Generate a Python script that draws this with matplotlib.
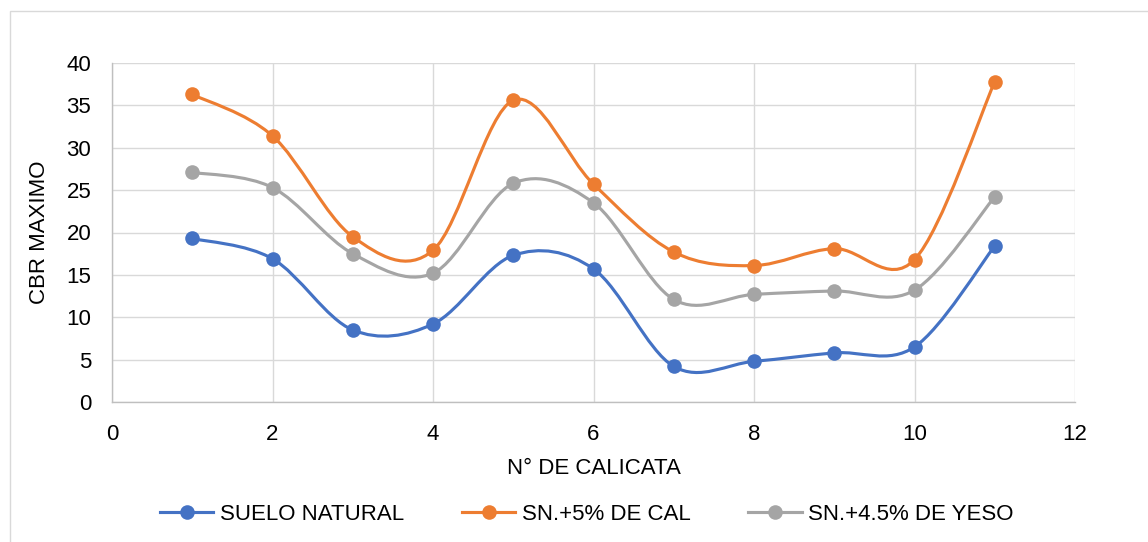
import numpy as np
import matplotlib
matplotlib.use("Agg")
from matplotlib import pyplot
from matplotlib.path import Path
from matplotlib.patches import PathPatch, Rectangle
from matplotlib.lines import Line2D

plt = pyplot

# Data
calicata = [1, 2, 3, 4, 5, 6, 7, 8, 9, 10, 11]
suelo_natural = [19.3, 16.9, 8.5, 9.2, 17.3, 15.7, 4.2, 4.8, 5.8, 6.5, 18.4]
sn_cal = [36.3, 31.4, 19.5, 17.9, 35.6, 25.7, 17.7, 16.1, 18.1, 16.8, 37.8]
sn_yeso = [27.1, 25.3, 17.5, 15.2, 25.8, 23.5, 12.1, 12.7, 13.1, 13.2, 24.2]

series_names = ["SUELO NATURAL", "SN.+5% DE CAL", "SN.+4.5% DE YESO"]
series_colors = ["#4472C4", "#ED7D31", "#A5A5A5"]

x_ticks = [0, 2, 4, 6, 8, 10, 12]
y_ticks = [0, 5, 10, 15, 20, 25, 30, 35, 40]

FONT = "Liberation Sans"
FS = 16
LW = 2.25
MS = 10.5

plt.rcParams['font.family'] = [FONT, 'DejaVu Sans']


def smooth_path(xs, ys):
    # excel-like smoothed line: cubic bezier, catmull-rom control points
    pts = np.column_stack([xs, ys]).astype(float)
    n = len(pts)
    verts = [pts[0]]
    codes = [Path.MOVETO]
    for i in range(n - 1):
        p0 = pts[i - 1] if i > 0 else pts[i]
        p1 = pts[i]
        p2 = pts[i + 1]
        p3 = pts[i + 2] if i + 2 < n else pts[i + 1]
        c1 = p1 + (p2 - p0) / 6.0
        c2 = p2 - (p3 - p1) / 6.0
        verts += [c1, c2, p2]
        codes += [Path.CURVE4] * 3
    return Path(verts, codes)


W, H = 1148, 542
fig = plt.figure(figsize=(W / 100, H / 100), dpi=100)

# outer chart border
fig.patches.append(Rectangle((9.5 / W, -0.1), 1.2, 1 - 11 / H + 0.1,
                             transform=fig.transFigure, fill=False,
                             edgecolor="#D9D9D9", linewidth=1.0))

ax = fig.add_axes([112 / W, 1 - 402 / H, (1075 - 112) / W, (402 - 63) / H])

series = [suelo_natural, sn_cal, sn_yeso]
for vals, name, col in zip(series, series_names, series_colors):
    ax.add_patch(PathPatch(smooth_path(calicata, vals), facecolor="none",
                           edgecolor=col, linewidth=LW, capstyle="round",
                           joinstyle="round", zorder=3))
    ax.plot(calicata, vals, linestyle="none", marker="o", markersize=MS,
            color=col, markeredgewidth=0, zorder=4)

ax.set_xlim(0, 12)
ax.set_ylim(0, 40)
ax.set_xticks(x_ticks)
ax.set_yticks(y_ticks)
ax.grid(True, color="#D9D9D9", linewidth=1.0)
ax.set_axisbelow(True)

for side in ["top", "right"]:
    ax.spines[side].set_visible(False)
for side in ["left", "bottom"]:
    ax.spines[side].set_color("#BFBFBF")
    ax.spines[side].set_linewidth(1.0)

ax.tick_params(axis="both", length=0, labelsize=FS, labelcolor="black")
ax.tick_params(axis="x", pad=16)
ax.tick_params(axis="y", pad=15)

ax.set_xlabel("N° DE CALICATA", fontsize=FS, labelpad=9)
ax.set_ylabel("CBR MAXIMO", fontsize=FS, labelpad=12)

handles = [Line2D([], [], color=c, linewidth=LW, marker="o", markersize=MS,
                  markeredgewidth=0) for c in series_colors]
fig.legend(handles, series_names, loc="center", ncol=3, frameon=False,
           bbox_to_anchor=(587 / W, 1 - 514 / H), fontsize=FS,
           handlelength=2.4, handletextpad=0.3, columnspacing=2.6)

fig.savefig("out.png", dpi=100)
